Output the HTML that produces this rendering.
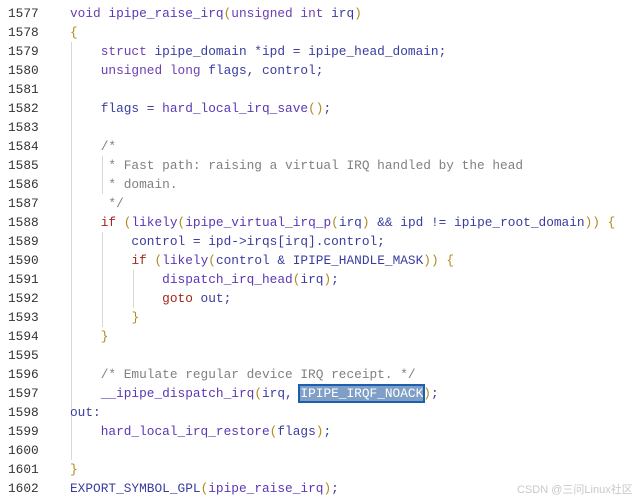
<!DOCTYPE html>
<html><head><meta charset="utf-8"><style>
body{margin:0;background:#fff;width:639px;height:501px;overflow:hidden;position:relative;font-family:"Liberation Mono",monospace;font-size:12.8px}
.l{position:absolute;left:0;height:19px;line-height:19px;white-space:pre}
.n{position:absolute;left:8px;color:#333}
.c{position:absolute;left:70px;color:#3a3d9e}
.k{color:#a3271d}.t{color:#6a3fb0}.p{color:#b08a1e}.m{color:#808080}.f{color:#5b37b5}
.g{position:absolute;width:1px;background:#d8d8d8}
.sel{background:#7f9fc7;color:#fff;outline:2px solid #1b5fae}
.wm{position:absolute;left:517px;top:481px;font-family:"Liberation Sans","Noto Sans CJK SC",sans-serif;font-size:11px;color:#c8c8c8}
</style></head><body>
<div class="g" style="left:71px;top:42px;height:418px"></div>
<div class="g" style="left:102px;top:156px;height:38px"></div>
<div class="g" style="left:102px;top:232px;height:95px"></div>
<div class="g" style="left:133px;top:270px;height:38px"></div>
<div class="l" style="top:4px"><span class="n">1577</span><span class="c"><span class="t">void</span> <span class="f">ipipe_raise_irq</span><span class="p">(</span><span class="t">unsigned int</span> irq<span class="p">)</span></span></div>
<div class="l" style="top:23px"><span class="n">1578</span><span class="c"><span class="p">{</span></span></div>
<div class="l" style="top:42px"><span class="n">1579</span><span class="c">    <span class="t">struct</span> ipipe_domain *ipd = ipipe_head_domain;</span></div>
<div class="l" style="top:61px"><span class="n">1580</span><span class="c">    <span class="t">unsigned long</span> flags, control;</span></div>
<div class="l" style="top:80px"><span class="n">1581</span></div>
<div class="l" style="top:99px"><span class="n">1582</span><span class="c">    flags = <span class="f">hard_local_irq_save</span><span class="p">()</span>;</span></div>
<div class="l" style="top:118px"><span class="n">1583</span></div>
<div class="l" style="top:137px"><span class="n">1584</span><span class="c m">    /*</span></div>
<div class="l" style="top:156px"><span class="n">1585</span><span class="c m">     * Fast path: raising a virtual IRQ handled by the head</span></div>
<div class="l" style="top:175px"><span class="n">1586</span><span class="c m">     * domain.</span></div>
<div class="l" style="top:194px"><span class="n">1587</span><span class="c m">     */</span></div>
<div class="l" style="top:213px"><span class="n">1588</span><span class="c">    <span class="k">if</span> <span class="p">(</span><span class="f">likely</span><span class="p">(</span><span class="f">ipipe_virtual_irq_p</span><span class="p">(</span>irq<span class="p">)</span> &amp;&amp; ipd != ipipe_root_domain<span class="p">))</span> <span class="p">{</span></span></div>
<div class="l" style="top:232px"><span class="n">1589</span><span class="c">        control = ipd-&gt;irqs[irq].control;</span></div>
<div class="l" style="top:251px"><span class="n">1590</span><span class="c">        <span class="k">if</span> <span class="p">(</span><span class="f">likely</span><span class="p">(</span>control &amp; IPIPE_HANDLE_MASK<span class="p">))</span> <span class="p">{</span></span></div>
<div class="l" style="top:270px"><span class="n">1591</span><span class="c">            <span class="f">dispatch_irq_head</span><span class="p">(</span>irq<span class="p">)</span>;</span></div>
<div class="l" style="top:289px"><span class="n">1592</span><span class="c">            <span class="k">goto</span> out;</span></div>
<div class="l" style="top:308px"><span class="n">1593</span><span class="c">        <span class="p">}</span></span></div>
<div class="l" style="top:327px"><span class="n">1594</span><span class="c">    <span class="p">}</span></span></div>
<div class="l" style="top:346px"><span class="n">1595</span></div>
<div class="l" style="top:365px"><span class="n">1596</span><span class="c m">    /* Emulate regular device IRQ receipt. */</span></div>
<div class="l" style="top:384px"><span class="n">1597</span><span class="c">    <span class="f">__ipipe_dispatch_irq</span><span class="p">(</span>irq, <span class="sel">IPIPE_IRQF_NOACK</span><span class="p">)</span>;</span></div>
<div class="l" style="top:403px"><span class="n">1598</span><span class="c">out:</span></div>
<div class="l" style="top:422px"><span class="n">1599</span><span class="c">    <span class="f">hard_local_irq_restore</span><span class="p">(</span>flags<span class="p">)</span>;</span></div>
<div class="l" style="top:441px"><span class="n">1600</span></div>
<div class="l" style="top:460px"><span class="n">1601</span><span class="c"><span class="p">}</span></span></div>
<div class="l" style="top:479px"><span class="n">1602</span><span class="c">EXPORT_SYMBOL_GPL<span class="p">(</span><span class="f">ipipe_raise_irq</span><span class="p">)</span>;</span></div>
<div class="wm">CSDN @三问Linux社区</div>
</body></html>
